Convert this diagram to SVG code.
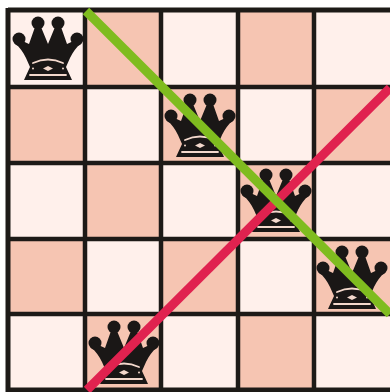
<svg xmlns="http://www.w3.org/2000/svg" width="390" height="392" viewBox="0 0 390 392">
<style>
.l{fill:#fff0eb}.d{fill:#f6c5b2}.g{stroke:#1d1a17;stroke-width:4.500;fill:none}
.k{fill:#1a1716}.t{fill:none;stroke:#f3d8cc;stroke-linecap:round}.c{stroke-width:9;stroke-linecap:butt;fill:none}
</style>
<defs>
<g id="queen">
<circle class="k" cx="-10" cy="-24" r="6.500"/><circle class="k" cx="10" cy="-24" r="6.500"/>
<circle class="k" cx="-29" cy="-8" r="6.500"/><circle class="k" cx="29" cy="-8" r="6.500"/>
<path class="k" d="M-32-9-19-3-13-20H-7L0-3 7-20H13L19-3 32-9 33-3C28 0 25 5 22 11L18 20 24 33H-24L-18 20-22 11C-25 5-28 0-33-3Z"/>
<path class="t" stroke-width="1.800" d="M-15 16Q0 9 15 16"/>
<path class="t" stroke-width="1.800" d="M-18 28H18"/>
<path d="M-5 21.500 0 19 5 21.500 0 24Z" fill="#f3d8cc"/>
<circle cx="-15" cy="21.500" r="1" fill="#f3d8cc"/><circle cx="15" cy="21.500" r="1" fill="#f3d8cc"/>
</g>
</defs>
<rect width="390" height="392" fill="#fff"/>
<g id="board">
<rect class="l" x="8" y="10" width="382" height="382"/>
<rect class="d" x="85" y="10" width="76" height="77"/><rect class="d" x="238" y="10" width="76" height="77"/>
<rect class="d" x="8" y="87" width="77" height="76"/><rect class="d" x="161" y="87" width="77" height="76"/><rect class="d" x="314" y="87" width="76" height="76"/>
<rect class="d" x="85" y="163" width="76" height="76"/><rect class="d" x="238" y="163" width="76" height="76"/>
<rect class="d" x="8" y="239" width="77" height="75"/><rect class="d" x="161" y="239" width="77" height="75"/><rect class="d" x="314" y="239" width="76" height="75"/>
<rect class="d" x="85" y="314" width="76" height="76"/><rect class="d" x="238" y="314" width="76" height="76"/>
<path class="g" d="M85 10V390M161 10V390M238 10V390M314 10V390M8 87H390M8 163H390M8 239H390M8 314H390"/>
<path d="M8 10H390M8 8V392M8 390H390" fill="none" stroke="#1d1a17" stroke-width="5"/>
</g>
<g id="queen-1"><use href="#queen" x="48" y="47"/></g>
<g id="queen-2"><use href="#queen" x="200" y="124"/></g>
<g id="queen-3"><use href="#queen" x="276" y="199"/></g>
<g id="queen-4"><use href="#queen" x="352" y="276"/></g>
<g id="queen-5"><use href="#queen" x="124" y="351"/></g>
<g id="connectors">
<path class="c" stroke="#e0224f" d="M87 390 390 88"/>
<path class="c" stroke="#7fbc1f" d="M86 11 390 314"/>
</g>
</svg>
